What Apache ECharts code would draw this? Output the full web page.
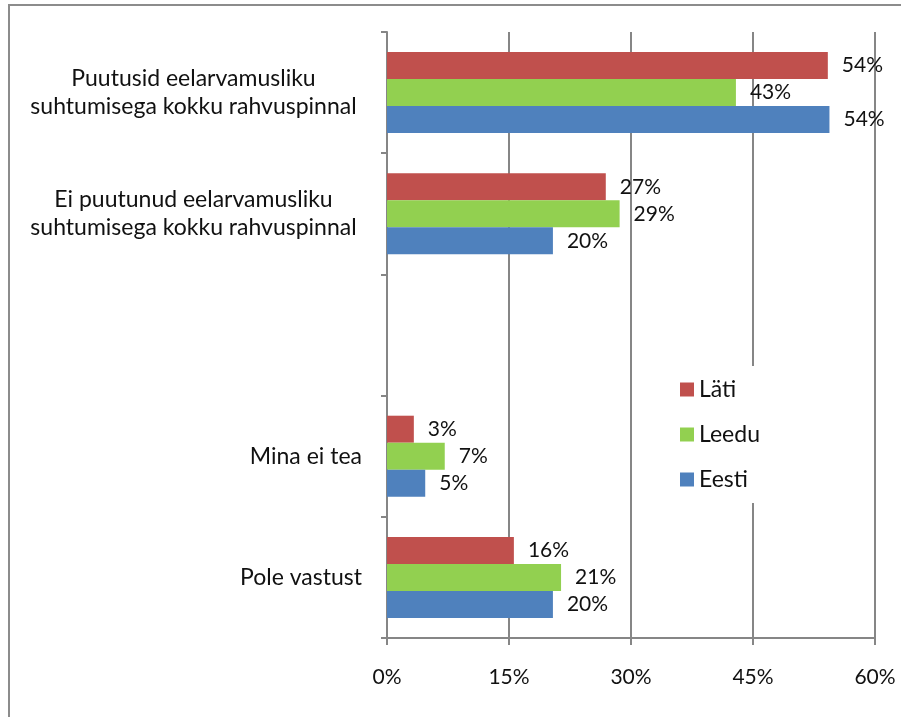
<!DOCTYPE html>
<html><head><meta charset="utf-8">
<script src="https://cdn.jsdelivr.net/npm/echarts@6/dist/echarts.min.js"></script>
<style>html,body{margin:0;padding:0;background:#fff}#c{width:901px;height:717px}</style>
</head><body><div id="c"></div>
<script>
const categories = ["Puutusid eelarvamusliku\nsuhtumisega kokku rahvuspinnal", "Ei puutunud eelarvamusliku\nsuhtumisega kokku rahvuspinnal", "", "Mina ei tea", "Pole vastust"];
const seriesNames = ["Läti", "Leedu", "Eesti"];
const latiValues = [54.2, 26.9, null, 3.3, 15.6];
const leeduValues = [42.9, 28.6, null, 7.1, 21.4];
const eestiValues = [54.4, 20.4, null, 4.7, 20.4];
const colors = ["#C0504D", "#92D050", "#4F81BD"];
const xTicks = [0, 15, 30, 45, 60];

const FONT = "Lato";
const chart = echarts.init(document.getElementById('c'));
function mkSeries(name, data, color) {
  return {
    name, type: 'bar', data, barWidth: 27, barGap: '0%',
    itemStyle: { color },
    label: { show: true, position: 'right', distance: 14, color: '#111', fontFamily: FONT, fontSize: 21,
      formatter: p => Math.round(p.value) + '%' }
  };
}
chart.setOption({
  animation: false,
  textStyle: { fontFamily: FONT },
  graphic: [{ type: 'rect', shape: { x: 9, y: 5, width: 940, height: 760 }, style: { fill: 'none', stroke: '#8c8c8c', lineWidth: 2 }, silent: true }],
  grid: { left: 387, right: 26, top: 32, bottom: 79, containLabel: false },
  legend: {
    data: seriesNames, orient: 'vertical', left: 672, top: 366,
    backgroundColor: '#fff', padding: [12, 90, 12, 8],
    itemWidth: 14, itemHeight: 14, itemGap: 22,
    textStyle: { fontFamily: FONT, fontSize: 23, color: '#111' },
    icon: 'rect'
  },
  xAxis: {
    type: 'value', min: xTicks[0], max: xTicks[xTicks.length - 1], interval: xTicks[1] - xTicks[0],
    axisLine: { show: true, lineStyle: { color: '#868686', width: 2 } },
    axisTick: { show: true, length: 7, lineStyle: { color: '#868686', width: 2 } },
    splitLine: { show: true, lineStyle: { color: '#868686', width: 2 } },
    axisLabel: { margin: 29, fontFamily: FONT, fontSize: 21, color: '#111', formatter: v => v + '%' }
  },
  yAxis: {
    type: 'category', data: categories, inverse: true,
    axisLine: { show: true, lineStyle: { color: '#868686', width: 2 } },
    axisTick: { show: true, length: 6, lineStyle: { color: '#868686', width: 2 } },
    splitLine: { show: false },
    axisLabel: {
      margin: 25, align: 'right', fontFamily: FONT, fontSize: 23, color: '#111', lineHeight: 28,
      formatter: v => {
        if (v.indexOf('\n') >= 0) return v.split('\n').map(s => '{c|' + s + '}').join('\n');
        return v;
      },
      rich: { c: { width: 337, align: 'center', fontFamily: FONT, fontSize: 23, color: '#111', lineHeight: 28 } }
    }
  },
  series: [mkSeries(seriesNames[0], latiValues, colors[0]), mkSeries(seriesNames[1], leeduValues, colors[1]), mkSeries(seriesNames[2], eestiValues, colors[2])]
});
</script></body></html>
